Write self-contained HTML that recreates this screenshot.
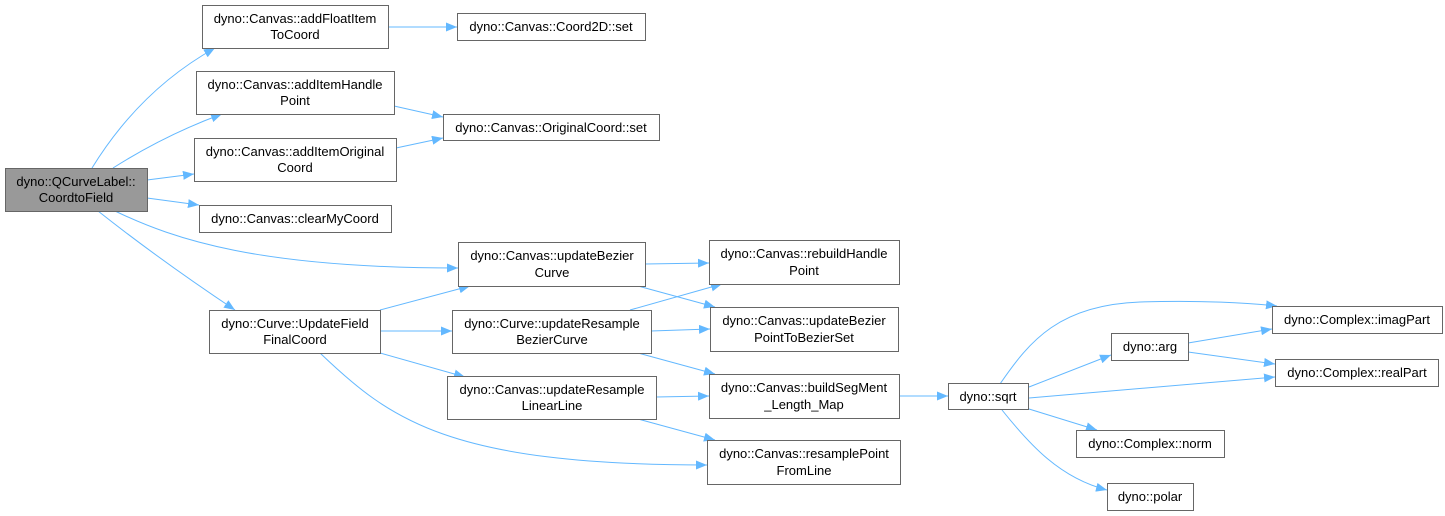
<!DOCTYPE html>
<html><head><meta charset="utf-8"><style>
html,body{margin:0;padding:0;background:#fff;}
svg{display:block;}
text{font-family:"Liberation Sans",Arial,sans-serif;font-size:13px;fill:#000;text-anchor:middle;}
rect{fill:#fff;stroke:#666;stroke-width:1;}
path{fill:none;stroke:#63b8ff;stroke-width:1;}
</style></head><body>
<svg width="1445" height="516" viewBox="0 0 1445 516">
<defs><marker id="a" markerWidth="11" markerHeight="9" refX="11" refY="4.5" orient="auto" markerUnits="userSpaceOnUse"><polygon points="0,0 11,4.5 0,9" fill="#63b8ff"/></marker></defs>
<g marker-end="url(#a)">
<path d="M92,168 Q140,90 215,48"/>
<path d="M113,168 Q165,135 222,114"/>
<path d="M147,180 L194,174"/>
<path d="M147,198 L199,205"/>
<path d="M115,211 C175,240 260,268 458,268"/>
<path d="M98,211 Q160,260 235,310"/>
<path d="M388,27 L457,27"/>
<path d="M394,106 L443,117"/>
<path d="M396,148 L443,138"/>
<path d="M380,310 L470,286"/>
<path d="M380,331 L452,331"/>
<path d="M380,353 L465,377"/>
<path d="M320,353 C390,420 450,465 707,465"/>
<path d="M645,264 L709,263"/>
<path d="M638,286 L715,307"/>
<path d="M630,310 L722,284"/>
<path d="M651,331 L710,329"/>
<path d="M638,353 L715,374"/>
<path d="M656,397 L709,396"/>
<path d="M638,419 L715,440"/>
<path d="M899,396 L948,396"/>
<path d="M1000,384 C1030,340 1060,305 1140,302 C1200,300 1250,303 1277,306"/>
<path d="M1029,387 L1111,355"/>
<path d="M1029,398 L1275,377"/>
<path d="M1029,409 L1097,430"/>
<path d="M1002,410 C1030,445 1060,478 1107,490"/>
<path d="M1188,343 L1272,329"/>
<path d="M1188,352 L1275,364"/>
</g>
<rect x="5.5" y="168.5" width="142" height="43" style="fill:#999"/>
<text x="76" y="186">dyno::QCurveLabel::</text><text x="76" y="202">CoordtoField</text>
<rect x="202.5" y="5.5" width="186" height="43"/><text x="295" y="23">dyno::Canvas::addFloatItem</text><text x="295" y="39">ToCoord</text>
<rect x="196.5" y="71.5" width="198" height="43"/><text x="295" y="89">dyno::Canvas::addItemHandle</text><text x="295" y="105">Point</text>
<rect x="194.5" y="138.5" width="202" height="43"/><text x="295" y="156">dyno::Canvas::addItemOriginal</text><text x="295" y="172">Coord</text>
<rect x="199.5" y="205.5" width="192" height="27"/><text x="295" y="223">dyno::Canvas::clearMyCoord</text>
<rect x="457.5" y="13.5" width="188" height="27"/><text x="551" y="31">dyno::Canvas::Coord2D::set</text>
<rect x="443.5" y="114.5" width="216" height="26"/><text x="551" y="132">dyno::Canvas::OriginalCoord::set</text>
<rect x="458.5" y="242.5" width="187" height="44"/><text x="552" y="260">dyno::Canvas::updateBezier</text><text x="552" y="277">Curve</text>
<rect x="209.5" y="310.5" width="171" height="43"/><text x="295" y="328">dyno::Curve::UpdateField</text><text x="295" y="344">FinalCoord</text>
<rect x="452.5" y="310.5" width="199" height="43"/><text x="552" y="328">dyno::Curve::updateResample</text><text x="552" y="344">BezierCurve</text>
<rect x="447.5" y="376.5" width="209" height="43"/><text x="552" y="394">dyno::Canvas::updateResample</text><text x="552" y="410">LinearLine</text>
<rect x="709.5" y="240.5" width="190" height="44"/><text x="804" y="258">dyno::Canvas::rebuildHandle</text><text x="804" y="275">Point</text>
<rect x="710.5" y="307.5" width="188" height="44"/><text x="804" y="325">dyno::Canvas::updateBezier</text><text x="804" y="342">PointToBezierSet</text>
<rect x="709.5" y="374.5" width="190" height="44"/><text x="804" y="392">dyno::Canvas::buildSegMent</text><text x="804" y="409">_Length_Map</text>
<rect x="707.5" y="440.5" width="193" height="44"/><text x="804" y="458">dyno::Canvas::resamplePoint</text><text x="804" y="475">FromLine</text>
<rect x="948.5" y="383.5" width="80" height="26"/><text x="988" y="401">dyno::sqrt</text>
<rect x="1111.5" y="333.5" width="77" height="27"/><text x="1150" y="351">dyno::arg</text>
<rect x="1272.5" y="306.5" width="170" height="27"/><text x="1357" y="324">dyno::Complex::imagPart</text>
<rect x="1275.5" y="359.5" width="163" height="27"/><text x="1357" y="377">dyno::Complex::realPart</text>
<rect x="1076.5" y="430.5" width="148" height="27"/><text x="1150" y="448">dyno::Complex::norm</text>
<rect x="1107.5" y="483.5" width="86" height="27"/><text x="1150" y="501">dyno::polar</text>
</svg>
</body></html>
